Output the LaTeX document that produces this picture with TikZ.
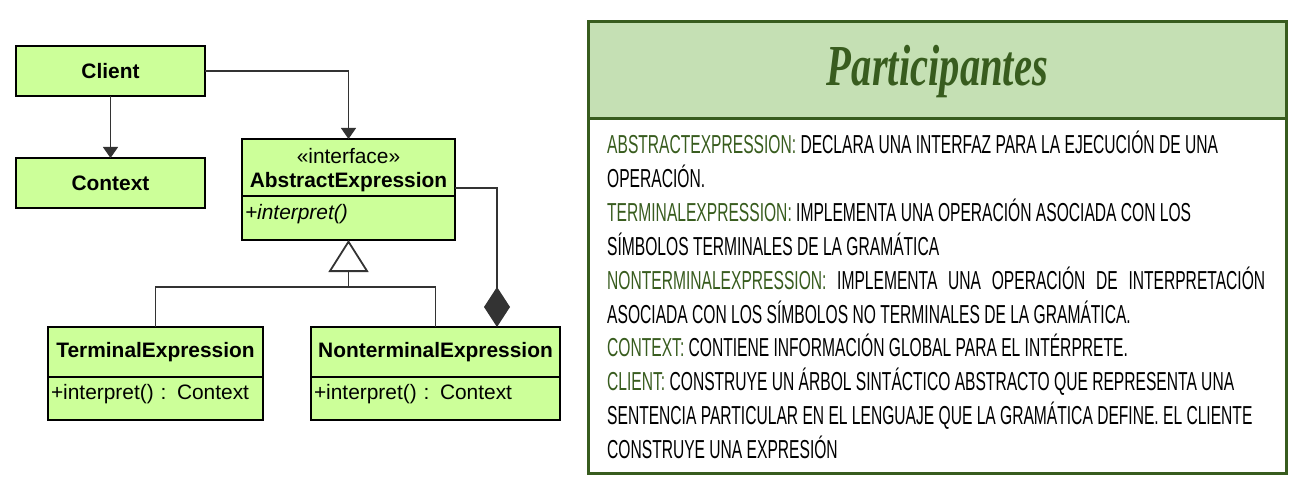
\documentclass[tikz,border=0pt]{standalone}
\usepackage{fontspec}
\setmainfont{Liberation Sans}
\newfontfamily\notefont[FakeStretch=0.6]{Liberation Sans}
\newfontfamily\titlefont[FakeStretch=0.7]{Liberation Serif}
\usetikzlibrary{positioning,arrows.meta}
\definecolor{umlgreen}{HTML}{CCFF99}
\definecolor{leaf}{HTML}{385C1E}
\definecolor{sage}{HTML}{C5E0B4}
\newcommand{\keyw}[1]{\textcolor{leaf}{#1}}

\begin{document}
\begin{tikzpicture}[x=1pt,y=-1pt,
  classhead/.style={draw=black,line width=1.5pt,fill=umlgreen,inner sep=0pt,outer sep=0pt,
    align=center,font=\fontsize{20.9}{24}\selectfont\bfseries},
  classbody/.style={draw=black,line width=1.5pt,fill=umlgreen,inner xsep=3pt,inner ysep=0pt,outer sep=0pt,
    align=left,text height=15pt,text depth=13pt,font=\fontsize{20.9}{24}\selectfont},
  assoc/.style={draw=black!80,line width=1.2pt,-{Triangle[length=11pt,width=15pt]}},
  link/.style={draw=black!80,line width=1.2pt},
  gen/.style={link,-{Triangle[open,length=32pt,width=40pt,line width=1.8pt,fill=white]}},
  agg/.style={link,{Diamond[length=40pt,width=26pt]}-},
  noteline/.style={anchor=base west,inner sep=0pt,font=\notefont\fontsize{26}{30}\selectfont}]
\useasboundingbox (0,0) rectangle (1302,484);

% class diagram
\node[classhead,anchor=north west,minimum width=189,minimum height=50] (client) at (16,46) {Client};
\node[classhead,anchor=north west,minimum width=189,minimum height=50] (context) at (16,158) {Context};
\node[classhead,anchor=north west,minimum width=213,minimum height=57,text depth=-1pt] (abshead) at (242,139)
  {{\mdseries «interface»}\\AbstractExpression};
\node[classbody,below=0pt of abshead,text width=207,minimum height=44] (absbody) {\itshape +interpret()};
\node[classhead,anchor=north west,minimum width=215,minimum height=50] (termhead) at (48,327) {TerminalExpression};
\node[classbody,below=0pt of termhead,text width=209,minimum height=43] (termbody) {+interpret() : Context};
\node[classhead,anchor=north west,minimum width=249,minimum height=50] (nonhead) at (311,327) {NonterminalExpression};
\node[classbody,below=0pt of nonhead,text width=243,minimum height=43] (nonbody) {+interpret() : Context};

\draw[assoc] (client.south) -- (context.north);
\draw[assoc] (client.east) -| (abshead.north);
\coordinate (join) at ([yshift=-47pt]absbody.south);
\draw[link] (termhead.north) |- (join) -| (nonhead.north);
\draw[gen] (join) -- (absbody.south);
\draw[agg] ([xshift=61.5pt]nonhead.north) |- ([yshift=-20.5pt]abshead.east);

% participants panel
\node[draw=leaf,line width=3pt,anchor=north west,minimum width=698,minimum height=452] (panel) at (587,20) {};
\node[draw=leaf,line width=3pt,fill=sage,anchor=north west,minimum width=698,minimum height=97] (hdr) at (587,20) {};
\node[text=leaf,font=\titlefont\bfseries\itshape\fontsize{58}{60}\selectfont] (title) at ([yshift=-2pt]hdr.center) {Participantes};
\foreach \txt [count=\i from 0] in {%
  {\keyw{ABSTRACTEXPRESSION:} DECLARA UNA INTERFAZ PARA LA EJECUCIÓN DE UNA},
  {OPERACIÓN.},
  {\keyw{TERMINALEXPRESSION:} IMPLEMENTA UNA OPERACIÓN ASOCIADA CON LOS},
  {SÍMBOLOS TERMINALES DE LA GRAMÁTICA},
  {\makebox[658pt][s]{\keyw{NONTERMINALEXPRESSION:} IMPLEMENTA UNA OPERACIÓN DE INTERPRETACIÓN}},
  {ASOCIADA CON LOS SÍMBOLOS NO TERMINALES DE LA GRAMÁTICA.},
  {\keyw{CONTEXT:} CONTIENE INFORMACIÓN GLOBAL PARA EL INTÉRPRETE.},
  {\keyw{CLIENT:} CONSTRUYE UN ÁRBOL SINTÁCTICO ABSTRACTO QUE REPRESENTA UNA},
  {SENTENCIA PARTICULAR EN EL LENGUAJE QUE LA GRAMÁTICA DEFINE. EL CLIENTE},
  {CONSTRUYE UNA EXPRESIÓN}}{%
  \pgfmathsetmacro{\yy}{154+33.8*\i}%
  \node[noteline] (line\i) at (607,\yy) {\txt};}
\end{tikzpicture}
\end{document}
